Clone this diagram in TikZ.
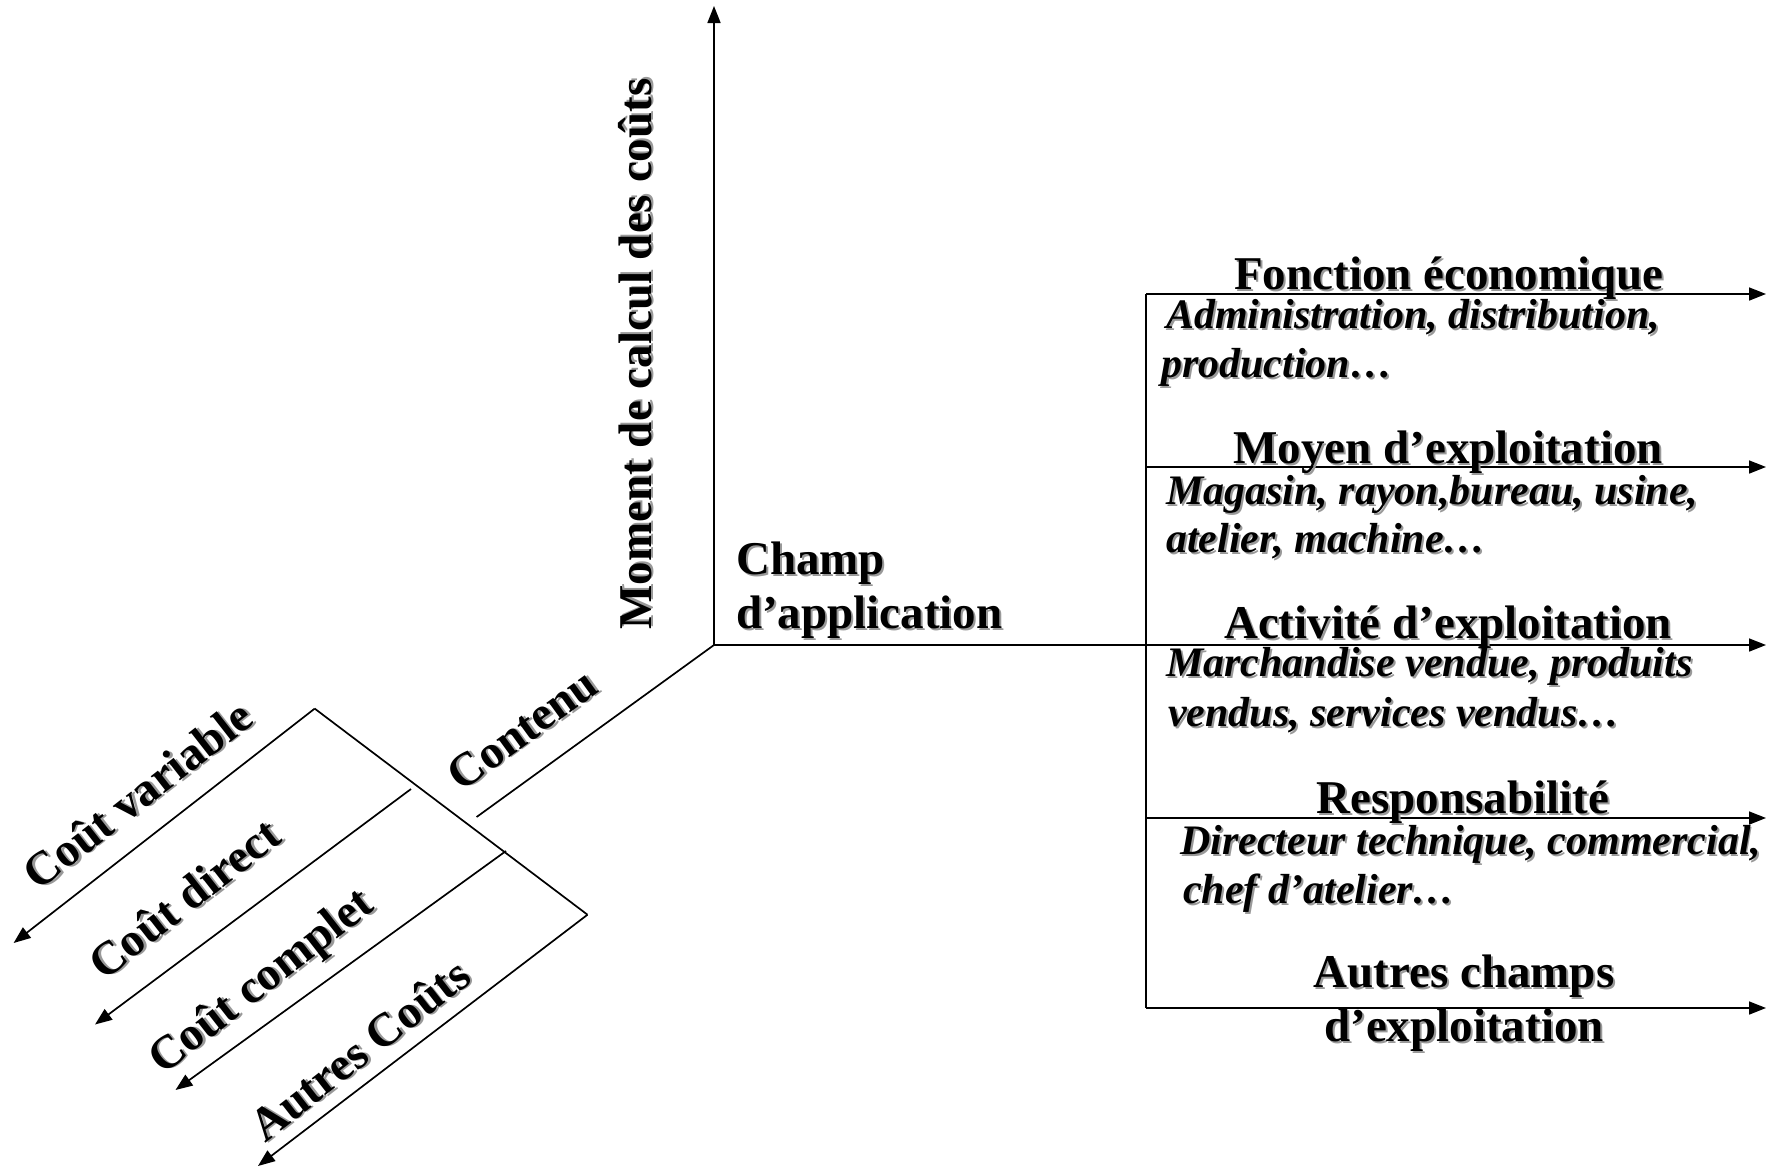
\documentclass[tikz,border=0pt]{standalone}
\usepackage{fontspec}
\setmainfont{Liberation Serif}
\usetikzlibrary{arrows.meta}
\definecolor{shade}{gray}{0.6}
% text with a small grey drop shadow
\newcommand\shtext[1]{\leavevmode\rlap{\kern2pt\raisebox{-2pt}{\textcolor{shade}{#1}}}#1}

\begin{document}
\begin{tikzpicture}[x=1pt,y=-1pt,
  axis/.style={line width=1.7pt},
  arr/.style={axis,-{Triangle[length=17pt,width=13pt]}},
  head/.style={font=\fontsize{47}{56}\selectfont\bfseries, inner sep=0pt},
  detail/.style={font=\fontsize{42}{50}\selectfont\bfseries\itshape, inner sep=0pt},
  ]
\useasboundingbox (0,0) rectangle (1775,1170);

% main axes
\coordinate (O) at (714,645);
\coordinate (top) at (714,6);
\draw[arr] (O) -- (top);

% right-hand bracket with its five arrows
\coordinate (b1) at (1146,294);
\coordinate (b2) at (1146,467);
\coordinate (b4) at (1146,818);
\coordinate (b5) at (1146,1008);
\coordinate (t1) at (1766,294);
\coordinate (t2) at (1766,467);
\coordinate (t3) at (1766,645);
\coordinate (t4) at (1766,818);
\coordinate (t5) at (1766,1008);
\draw[axis] (b1) -- (b5);
\draw[arr] (b1) -- (t1);
\draw[arr] (b2) -- (t2);
\draw[arr] (O) -- (t3);
\draw[arr] (b4) -- (t4);
\draw[arr] (b5) -- (t5);

% oblique axis and fan of cost arrows
\coordinate (c) at (476.6,817);
\draw[axis] (O) -- (c);
\coordinate (f1) at (314.7,708.6);
\coordinate (f2) at (411,789);
\coordinate (f3) at (506,851);
\coordinate (f4) at (587.5,914.7);
\coordinate (a1) at (13.6,943);
\coordinate (a2) at (95,1024.5);
\coordinate (a3) at (175.5,1090);
\coordinate (a4) at (258,1166);
\draw[axis] (f1) -- (f4);
\draw[arr] (f1) -- (a1);
\draw[arr] (f2) -- (a2);
\draw[arr] (f3) -- (a3);
\draw[arr] (f4) -- (a4);

% axis labels
\node[head, rotate=90] (moment) at (636,354) {\shtext{Moment de calcul des coûts}};
\node[head, anchor=base west] (champ1) at (736,574) {\shtext{Champ}};
\node[head, anchor=base west] (champ2) at (736,628) {\shtext{d’application}};
\node[head, rotate=36] (contenu) at (523,730) {\shtext{Contenu}};

% cost labels
\node[head, rotate=38] (cv) at (138,795) {\shtext{Coût variable}};
\node[head, rotate=38] (cd) at (184.5,899) {\shtext{Coût direct}};
\node[head, rotate=38] (cc) at (263,984) {\shtext{Coût complet}};
\node[head, rotate=38] (ac) at (360,1050) {\shtext{Autres Coûts}};

% fields of application
\node[head, anchor=base] (h1) at (1449,289) {\shtext{Fonction économique}};
\node[detail, anchor=base west] (d1a) at (1166,328) {\shtext{Administration, distribution,}};
\node[detail, anchor=base west] (d1b) at (1161,377) {\shtext{production…}};

\node[head, anchor=base] (h2) at (1448,463) {\shtext{Moyen d’exploitation}};
\node[detail, anchor=base west] (d2a) at (1166,504) {\shtext{Magasin, rayon,bureau, usine,}};
\node[detail, anchor=base west] (d2b) at (1166,552) {\shtext{atelier, machine…}};

\node[head, anchor=base] (h3) at (1448,638) {\shtext{Activité d’exploitation}};
\node[detail, anchor=base west] (d3a) at (1166,676) {\shtext{Marchandise vendue, produits}};
\node[detail, anchor=base west] (d3b) at (1168,726) {\shtext{vendus, services vendus…}};

\node[head, anchor=base] (h4) at (1463,813) {\shtext{Responsabilité}};
\node[detail, anchor=base west] (d4a) at (1180,854) {\shtext{Directeur technique, commercial,}};
\node[detail, anchor=base west] (d4b) at (1183,903) {\shtext{chef d’atelier…}};

\node[head, anchor=base] (h5) at (1464,987) {\shtext{Autres champs}};
\node[head, anchor=base] (h5b) at (1464,1041) {\shtext{d’exploitation}};
\end{tikzpicture}
\end{document}
